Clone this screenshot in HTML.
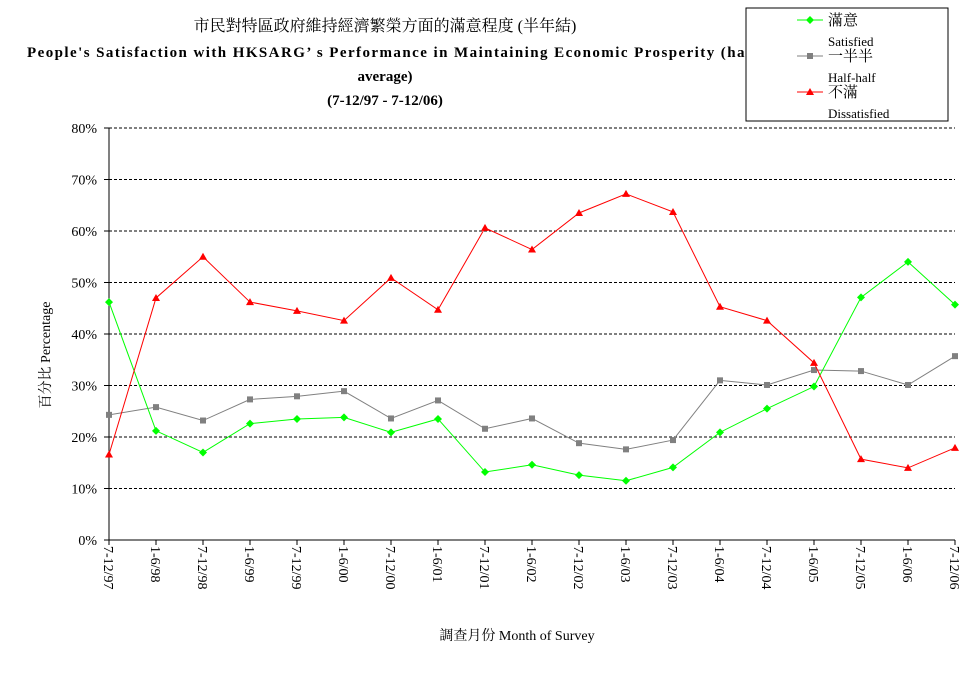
<!DOCTYPE html>
<html><head><meta charset="utf-8"><style>
body{margin:0;background:#fff;}
svg text{font-family:"Liberation Serif","Noto Serif CJK SC","Noto Sans CJK TC",serif;}
</style></head><body>
<svg id="chart" width="974" height="680" xmlns="http://www.w3.org/2000/svg">
<rect width="974" height="680" fill="#fff"/>
<g text-anchor="middle" fill="#000">
<text x="385" y="31" font-size="16">市民對特區政府維持經濟繁榮方面的滿意程度 (半年結)</text>
<text x="27" y="57" font-size="15" font-weight="bold" text-anchor="start" textLength="770" lengthAdjust="spacing">People's Satisfaction with HKSARG’ s Performance in Maintaining Economic Prosperity (half-year</text>
<text x="385" y="81" font-size="15" font-weight="bold">average)</text>
<text x="385" y="105" font-size="15" font-weight="bold">(7-12/97 - 7-12/06)</text>
</g>
<g id="grid"></g>
<g id="axes"></g>
<g id="series"></g>
<text transform="translate(50,355) rotate(-90)" text-anchor="middle" font-size="14">百分比 Percentage</text>
<text x="517" y="640" text-anchor="middle" font-size="14">調查月份 Month of Survey</text>
<g>
<rect x="746" y="8" width="202" height="113" fill="#fff" stroke="#000" stroke-width="1"/>
<g>
<line x1="797" y1="20" x2="823" y2="20" stroke="#00ff00"/><path d="M810 16 L814 20 L810 24 L806 20Z" fill="#00ff00"/>
<text x="828" y="25" font-size="15">滿意</text><text x="828" y="46" font-size="13">Satisfied</text></g>
<g>
<line x1="797" y1="56" x2="823" y2="56" stroke="#808080"/><rect x="807" y="53" width="6" height="6" fill="#808080"/>
<text x="828" y="61" font-size="15">一半半</text><text x="828" y="82" font-size="13">Half-half</text></g>
<g>
<line x1="797" y1="92" x2="823" y2="92" stroke="#ff0000"/><path d="M810 88 L814 95 L806 95Z" fill="#ff0000"/>
<text x="828" y="97" font-size="15">不滿</text><text x="828" y="118" font-size="13">Dissatisfied</text></g>
</g>
</svg>
<script>
const categories=["7-12/97","1-6/98","7-12/98","1-6/99","7-12/99","1-6/00","7-12/00","1-6/01","7-12/01","1-6/02","7-12/02","1-6/03","7-12/03","1-6/04","7-12/04","1-6/05","7-12/05","1-6/06","7-12/06"];
const satisfied=[46.2,21.2,17.0,22.6,23.5,23.8,20.9,23.5,13.2,14.6,12.6,11.5,14.1,20.9,25.5,29.8,47.1,54.0,45.7];
const halfHalf=[24.3,25.8,23.2,27.3,27.9,28.9,23.6,27.1,21.6,23.6,18.8,17.6,19.4,31.0,30.1,33.0,32.8,30.1,35.7];
const dissatisfied=[16.6,47.0,55.0,46.2,44.5,42.6,50.9,44.7,60.6,56.4,63.5,67.2,63.7,45.3,42.6,34.4,15.7,14.0,17.9];
const yTicks=[0,10,20,30,40,50,60,70,80];
const NS="http://www.w3.org/2000/svg";
const X0=109,X1=955,Y0=540,Y1=128;
function xs(i){return X0+(X1-X0)*i/(categories.length-1);}
function ys(v){return Y0-(Y0-Y1)*v/80;}
function mk(t,a,p){const e=document.createElementNS(NS,t);for(const k in a)e.setAttribute(k,a[k]);p.appendChild(e);return e;}
const grid=document.getElementById('grid'),axes=document.getElementById('axes'),ser=document.getElementById('series');
yTicks.forEach(v=>{
 if(v>0){const g=mk('line',{x1:X0,x2:X1,y1:ys(v),y2:ys(v),stroke:'#000','stroke-dasharray':'3,2'},grid);
 
 }
 const t=mk('text',{x:X0-12,y:ys(v)+5,'text-anchor':'end','font-size':'14'},axes);t.textContent=v+'%';
 
 
 mk('line',{x1:X0-5,x2:X0,y1:ys(v),y2:ys(v),stroke:'#000'},axes);
});
const ya=mk('line',{x1:X0,x2:X0,y1:Y1,y2:Y0,stroke:'#000'},axes);


const xa=mk('line',{x1:X0,x2:X1,y1:Y0,y2:Y0,stroke:'#000'},axes);


categories.forEach((c,i)=>{
 mk('line',{x1:xs(i),x2:xs(i),y1:Y0,y2:Y0+5,stroke:'#000'},axes);
 const t=mk('text',{transform:`translate(${xs(i)-5},${Y0+6}) rotate(90)`,'font-size':'14'},axes);t.textContent=c;
 
 
});
function series(data,color,shape,name){
 const g=mk('g',{},ser);
 
 
 mk('polyline',{points:data.map((v,i)=>xs(i)+','+ys(v)).join(' '),fill:'none',stroke:color,'stroke-width':1},g);
 data.forEach((v,i)=>{const x=xs(i),y=ys(v);let m;
  if(shape==='d')m=mk('path',{d:`M${x} ${y-4}L${x+4} ${y}L${x} ${y+4}L${x-4} ${y}Z`,fill:color},g);
  else if(shape==='s')m=mk('rect',{x:x-3,y:y-3,width:6,height:6,fill:color},g);
  else m=mk('path',{d:`M${x} ${y-4}L${x+4} ${y+3}L${x-4} ${y+3}Z`,fill:color},g);
  
  });
}
series(halfHalf,'#808080','s','series-half-half');
series(satisfied,'#00ff00','d','series-satisfied');
series(dissatisfied,'#ff0000','t','series-dissatisfied');
</script>
</body></html>
